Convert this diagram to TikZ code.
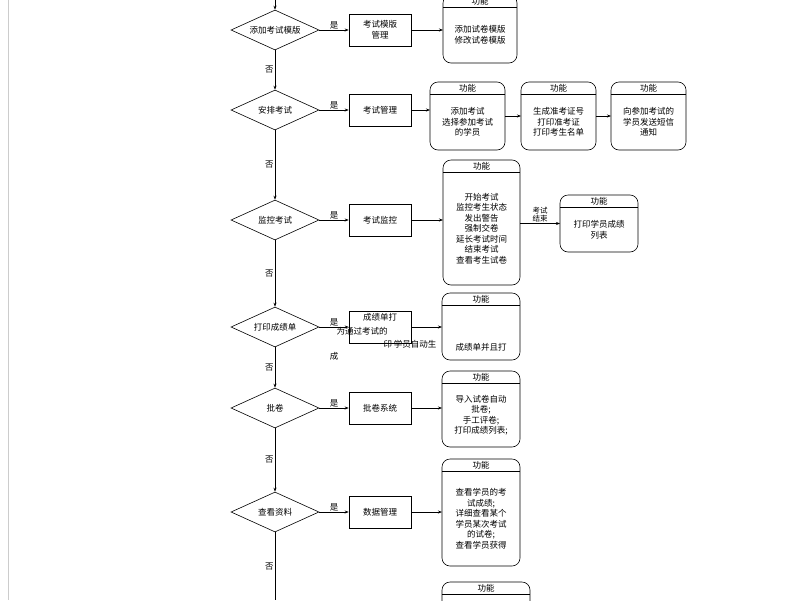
\documentclass[tikz,border=0pt]{standalone}
\usepackage{fontspec}
\newfontfamily\cjk{Noto Sans CJK SC}
\usetikzlibrary{shapes.geometric,arrows.meta}
\begin{document}
\begin{tikzpicture}[x=1pt,y=-1pt,font=\cjk\fontsize{8.5}{10.5}\selectfont,line width=0.6pt,
 dec/.style={diamond,draw,aspect=2.2,minimum width=88pt,minimum height=40pt,inner sep=0pt},
 box/.style={draw,minimum width=62pt,minimum height=32pt,align=center,inner sep=1pt},
 fn/.style={draw,rounded corners=8pt},
 arr/.style={-{Stealth[length=4pt]}},
 lab/.style={inner sep=1pt}]
\useasboundingbox (0,0) rectangle (800,600);
\draw[gray!40] (8,0) -- (8,600);
% decisions
\node[dec] (d1) at (275,30) {添加考试模版};
\node[dec] (d2) at (275,110) {安排考试};
\node[dec] (d3) at (275,220) {监控考试};
\node[dec] (d4) at (275,327) {打印成绩单};
\node[dec] (d5) at (275,408) {批卷};
\node[dec] (d6) at (275,512) {查看资料};
\coordinate (top) at (275,0);
\coordinate (bot) at (275,600);
\draw[arr] (top) -- (d1.north);
\draw[arr] (d1) -- node[lab,left]{否} (d2);
\draw[arr] (d2) -- node[lab,left]{否} (d3);
\draw[arr] (d3) -- node[lab,left]{否} (d4);
\draw[arr] (d4) -- node[lab,left]{否} (d5);
\draw[arr] (d5) -- node[lab,left]{否} (d6);
\draw (d6) -- node[lab,left]{否} (bot);
% boxes
\node[box] (b1) at (380,30) {考试模版\\管理};
\node[box] (b2) at (380,110) {考试管理};
\node[box] (b3) at (380,220) {考试监控};
\node[box] (b4) at (380,327) {};
\node[box] (b5) at (380,408) {批卷系统};
\node[box] (b6) at (380,512) {数据管理};
\foreach \i in {1,...,6}{\draw[arr] (d\i) -- node[lab,above]{是} (b\i);}
% function boxes
\newcommand{\fnbox}[6]{% name, x1,y1,x2,y2, text
 \draw[fn] (#2,#3) rectangle (#4,#5);
 \draw (#2,#3+12) -- (#4,#3+12);
 \node[lab] at ({(#2+#4)/2},#3+6) {功能};
 \node[align=center,inner sep=0pt] (#1) at ({(#2+#4)/2},{(#3+12+#5)/2}) {#6};
 \coordinate (#1w) at (#2,{(#3+#5)/2});
 \coordinate (#1e) at (#4,{(#3+#5)/2});}
\fnbox{f1}{443}{-5}{517}{63}{添加试卷模版\\修改试卷模版}
\fnbox{f2a}{430}{82}{505}{150}{添加考试\\选择参加考试\\的学员}
\fnbox{f2b}{521}{82}{596}{150}{生成准考证号\\打印准考证\\打印考生名单}
\fnbox{f2c}{611}{82}{686}{150}{向参加考试的\\学员发送短信\\通知}
\fnbox{f3}{443}{160}{520}{285}{开始考试\\监控考生状态\\发出警告\\强制交卷\\延长考试时间\\结束考试\\查看考生试卷}
\fnbox{f3b}{560}{195}{638}{252}{打印学员成绩\\列表}
\draw[fn] (442,293) rectangle (520,360); \draw (442,305)--(520,305);
\node[lab] at (481,299) {功能};
\node[lab] (f4) at (481,347) {成绩单并且打};
\coordinate (f4w) at (442,327);
\fnbox{f5}{442}{371}{520}{447}{导入试卷自动\\批卷;\\手工评卷;\\打印成绩列表;}
\fnbox{f6}{442}{459}{520}{566}{查看学员的考\\试成绩;\\详细查看某个\\学员某次考试\\的试卷;\\查看学员获得}
\fnbox{f7}{442}{582}{530}{640}{}
\draw[arr] (b1.east) -- (b1.east -| f1w);
\draw[arr] (b2.east) -- (b2.east -| f2aw);
\draw[arr] (f2ae) -- (f2bw);
\draw[arr] (f2be) -- (f2cw);
\draw[arr] (b3.east) -- (b3.east -| f3w);
\draw[arr] (f3e|-f3bw) -- node[lab,above,align=center,font=\cjk\fontsize{7.5}{8}\selectfont]{考试\\结束} (f3bw);
\draw[arr] (b4.east) -- (b4.east -| f4w);
\draw[arr] (b5.east) -- (b5.east -| f5w);
\draw[arr] (b6.east) -- (b6.east -| f6w);
% overlapping stray texts
\node[lab] at (380,317) {成绩单打};
\node[lab] at (362,331) {为通过考试的};
\node[lab] at (410,344) {印 学员自动生};
\node[lab] at (334,356) {成};
\end{tikzpicture}
\end{document}
